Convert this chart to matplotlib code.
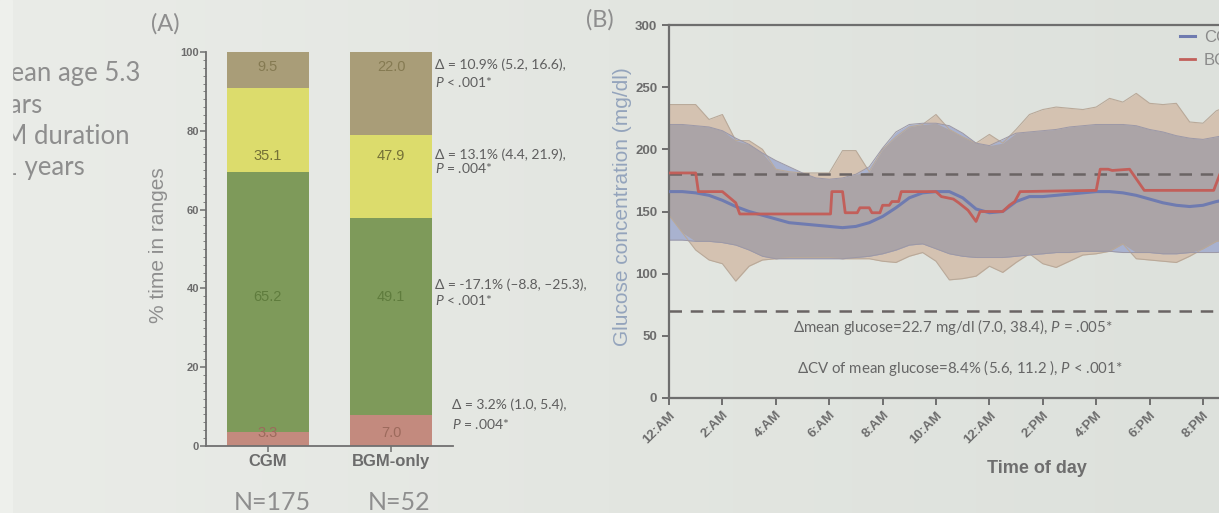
import matplotlib
matplotlib.use("Agg")
import matplotlib.pyplot as plt
import numpy as np

plt.rcParams['font.family'] = ['Liberation Sans', 'DejaVu Sans']
plt.rcParams['mathtext.fontset'] = 'custom'
plt.rcParams['mathtext.it'] = 'Lato:italic'
plt.rcParams['mathtext.rm'] = 'Lato'

# ---- panel A data: % time in ranges ----
groups = ['CGM', 'BGM-only']
group_n = ['N=175', 'N=52']
cgm_pct = [3.5, 66.0, 21.4, 9.1]      # segment heights, bottom to top
bgm_pct = [7.9, 50.0, 21.0, 21.1]
cgm_labels = ['3.3', '65.2', '35.1', '9.5']
bgm_labels = ['7.0', '49.1', '47.9', '22.0']
delta_lines = [
    ('\u0394 = 3.2% (1.0, 5.4),', r'$\it{P}$ = .004*'),
    ('\u0394 = -17.1% (\u20138.8, \u201325.3),', r'$\it{P}$ < .001*'),
    ('\u0394 = 13.1% (4.4, 21.9),', r'$\it{P}$ = .004*'),
    ('\u0394 = 10.9% (5.2, 16.6),', r'$\it{P}$ < .001*'),
]

# ---- panel B data: glucose over the day (hours after midnight) ----
hours = np.arange(0, 24.5, 0.5)
cgm_mean = [166, 166, 165, 163, 159, 154, 150, 147, 144, 141, 140, 139, 138,
            137, 138, 141, 146, 153, 161, 165, 166, 166, 161, 152, 149, 150,
            158, 162, 162, 163, 164, 165, 166, 166, 165, 163, 160, 157, 155,
            154, 155, 158, 160, 161, 162, 162, 162, 163, 163]
cgm_upper = [220, 220, 219, 218, 215, 209, 204, 197, 191, 186, 181, 177, 176,
             177, 180, 186, 201, 214, 220, 221, 221, 219, 213, 205, 203, 208,
             213, 214, 215, 216, 218, 219, 220, 220, 220, 219, 216, 214, 211,
             209, 208, 210, 212, 214, 215, 216, 217, 217, 218]
cgm_lower = [127, 127, 126, 126, 125, 123, 119, 114, 112, 112, 112, 112, 112,
             112, 113, 114, 116, 119, 123, 124, 120, 116, 114, 113, 113, 113,
             114, 115, 116, 117, 117, 118, 118, 118, 117, 117, 117, 116, 116,
             117, 117, 117, 118, 119, 120, 121, 122, 122, 123]
bgm_upper = [236, 236, 236, 224, 228, 207, 207, 200, 184, 182, 181, 181, 181,
             199, 199, 182, 200, 210, 218, 220, 228, 216, 210, 205, 212, 205,
             216, 228, 232, 234, 233, 232, 234, 241, 238, 245, 237, 236, 237,
             222, 221, 231, 235, 236, 236, 236, 236, 236, 236]
bgm_lower = [147, 133, 119, 111, 108, 94, 106, 111, 112, 113, 113, 113, 113,
             112, 112, 112, 110, 109, 114, 117, 110, 95, 96, 98, 106, 101,
             109, 116, 108, 105, 110, 115, 116, 118, 124, 112, 111, 110, 109,
             114, 120, 126, 128, 128, 128, 128, 128, 128, 128]
bgm_t = [0, 1.0, 1.1, 2.0, 2.5, 2.65, 6.05, 6.1, 6.5, 6.6, 7.05, 7.15, 7.5,
         7.6, 7.9, 8.0, 8.25, 8.35, 8.6, 8.7, 10.0, 10.2, 10.65, 10.85, 11.2,
         11.3, 11.5, 11.65, 12.5, 12.75, 12.95, 13.15, 16.0, 16.15, 16.45,
         16.6, 17.25, 17.8, 20.4, 20.65, 24]
bgm_mean = [181, 181, 166, 166, 157, 148, 148, 166, 166, 149, 149, 153, 153,
            149, 149, 155, 155, 158, 158, 166, 166, 162, 160, 157, 151, 148,
            142, 150, 150, 155, 158, 166, 167, 184, 184, 183, 184, 167, 167,
            181, 181]
hypo_line = 70
hyper_line = 180
time_ticks = np.arange(0, 25, 2)
time_labels = ['12:AM', '2:AM', '4:AM', '6:AM', '8:AM', '10:AM', '12:AM',
               '2:PM', '4:PM', '6:PM', '8:PM', '10:PM', '12:AM']

W, H = 1219, 513
fig = plt.figure(figsize=(W / 100, H / 100), dpi=100)
fig.patch.set_facecolor('#e3e6e1')

# photo-like background shading
bg = fig.add_axes([0, 0, 1, 1], zorder=-10)
grad = np.linspace(0, 1, 256)[None, :]
bg.imshow(grad, aspect='auto', extent=[0, 1, 0, 1],
          cmap=matplotlib.colors.LinearSegmentedColormap.from_list(
              'bgc', ['#eaece8', '#e3e6e1', '#dde1dc']))
bg.axis('off')

grey_txt = '#6c6c6c'
slide_txt = '#8e8e8e'

# ================= panel A =================
axA = fig.add_axes([206 / W, 1 - 446 / H, 247 / W, 394 / H])
axA.patch.set_alpha(0)
seg_colors = ['#c38a7e', '#7e9a5a', '#dcdc6c', '#a99d78']
lab_colors = ['#9c6a5c', '#5f7c3d', '#747036', '#857a52']
label_rows = [3.3, 37.8, 73.6, 96.2]

for i, (pcts, labs) in enumerate([(cgm_pct, cgm_labels), (bgm_pct, bgm_labels)]):
    bottom = 0
    for j, p in enumerate(pcts):
        axA.bar(i, p, bottom=bottom, width=0.66, color=seg_colors[j], linewidth=0)
        bottom += p
        axA.text(i, label_rows[j], labs[j], ha='center', va='center',
                 fontsize=10.5, color=lab_colors[j])

axA.set_xlim(-0.5, 1.5)
axA.set_ylim(0, 100)
axA.set_yticks([0, 20, 40, 60, 80, 100])
axA.set_yticks(np.arange(0, 101, 2), minor=True)
axA.set_xticks([0, 1])
axA.set_xticklabels(groups, fontsize=12, fontweight='bold', color=grey_txt)
for s in ['top', 'right']:
    axA.spines[s].set_visible(False)
for s in ['left', 'bottom']:
    axA.spines[s].set_color('#707070')
    axA.spines[s].set_linewidth(1.3)
axA.tick_params(axis='y', which='major', length=4, width=1.1, color='#707070',
                labelsize=8, labelcolor=grey_txt, pad=1)
axA.tick_params(axis='y', which='minor', length=2, width=0.7, color='#808080')
axA.tick_params(axis='x', length=4, width=1.1, color='#707070', pad=2)
for t in axA.get_yticklabels():
    t.set_fontweight('bold')
axA.set_ylabel('% time in ranges', fontsize=15, color='#8e8e8e')
axA.yaxis.set_label_coords(-0.152, 0.51)

ann_pos = [(1.49, 10.4, 5.6), (1.354, 40.9, 37.1), (1.354, 73.9, 70.6),
           (1.354, 96.7, 92.4)]
for (x0, y1, y2), (l1, l2) in zip(ann_pos, delta_lines):
    axA.text(x0, y1, l1, fontsize=10, color='#5e5e5e', va='center',
             family=['Lato', 'DejaVu Sans'], clip_on=False)
    axA.text(x0, y2, l2, fontsize=10, color='#5e5e5e', va='center',
             family=['Lato', 'DejaVu Sans'], clip_on=False)

for i, n in enumerate(group_n):
    fig.text([272, 399][i] / W, 1 - 503 / H, n, ha='center', va='center',
             fontsize=18, color=slide_txt, family=['Lato', 'DejaVu Sans'])

fig.text(165 / W, 1 - 24 / H, '(A)', ha='center', va='center', fontsize=17,
         color=slide_txt, family=['Lato', 'DejaVu Sans'])

# clipped bullet text at the slide's left edge
bullets = [('\u2022 Mean age 5.3', 140, 73), ('years', 43, 105),
           ('\u2022 T1DM duration', 130, 137), ('2.1 years', 85, 168)]
for txt, xr, yc in bullets:
    fig.text(xr / W, 1 - yc / H, txt, ha='right', va='center', fontsize=18.5,
             color=slide_txt, family=['Lato', 'DejaVu Sans'])
# light strip at the photo's left edge
fig.patches.append(plt.Rectangle((0, 0), 12 / W, 1, transform=fig.transFigure,
                                 color='#eef0ec', zorder=5))

# ================= panel B =================
x0B = 669
pxh = 26.7
axB = fig.add_axes([x0B / W, 1 - 398 / H, 24 * pxh / W, 373 / H])
axB.patch.set_alpha(0)

c_tan = '#d4c2b1'
c_blue = '#a9b2cf'
c_over = '#aba4a7'
cu = np.array(cgm_upper)
cl = np.array(cgm_lower)
bu = np.array(bgm_upper)
bl = np.array(bgm_lower)
axB.fill_between(hours, bl, bu, color=c_tan, linewidth=0, zorder=1)
axB.fill_between(hours, cl, cu, color=c_blue, linewidth=0, zorder=1.1)
top = np.minimum(cu, bu)
bot = np.maximum(cl, bl)
axB.fill_between(hours, bot, top, where=top > bot, interpolate=True,
                 color=c_over, linewidth=0, zorder=1.2)
axB.plot(hours, bu, color='#b9a999', lw=0.8, zorder=1.3)
axB.plot(hours, bl, color='#b9a999', lw=0.8, zorder=1.3)
axB.plot(hours, cu, color='#9c98a6', lw=0.7, zorder=1.3)
axB.plot(hours, cl, color='#9c98a6', lw=0.7, zorder=1.3)

for yv in [hypo_line, hyper_line]:
    axB.axhline(yv, color='#6a6464', lw=1.8, dashes=(5, 3.5), zorder=2)

ln_c, = axB.plot(hours, cgm_mean, color='#6f7bb0', lw=2.2, zorder=3, label='CGM')
ln_b, = axB.plot(bgm_t, bgm_mean, color='#c25f5a', lw=2.0, zorder=4, label='BGM-only')

axB.set_xlim(0, 24)
axB.set_ylim(0, 300)
axB.set_yticks([0, 50, 100, 150, 200, 250, 300])
axB.set_xticks(time_ticks)
axB.set_xticklabels(time_labels, rotation=45, ha='right', rotation_mode='anchor',
                    fontsize=9, fontweight='bold', color=grey_txt)
for t in axB.get_yticklabels():
    t.set_fontweight('bold')
axB.tick_params(axis='both', length=5, width=1.4, color='#6e6e6e',
                labelsize=9.5, labelcolor=grey_txt)
axB.tick_params(axis='x', pad=3)
for s in axB.spines.values():
    s.set_color('#6e6e6e')
    s.set_linewidth(1.6)
axB.set_ylabel('Glucose concentration (mg/dl)', fontsize=15, color='#94a4bc')
axB.yaxis.set_label_coords(-0.058, 0.512)
axB.set_xlabel('Time of day', fontsize=13, fontweight='bold', color='#6e6e6e')
axB.xaxis.set_label_coords((1037 - x0B) / (24 * pxh), (398 - 460) / 373)

axB.text(10.64, 57, '\u0394mean glucose=22.7 mg/dl (7.0, 38.4), $\\it{P}$ = .005*',
         ha='center', va='center', fontsize=10.8, color='#666666',
         family=['Lato', 'DejaVu Sans'])
axB.text(10.9, 24, '\u0394CV of mean glucose=8.4% (5.6, 11.2 ), $\\it{P}$ < .001*',
         ha='center', va='center', fontsize=10.8, color='#666666',
         family=['Lato', 'DejaVu Sans'])

axB.legend(handles=[ln_c, ln_b], loc='upper left',
           bbox_to_anchor=(1177 / W, 1 - 27 / H), bbox_transform=fig.transFigure,
           frameon=False, handlelength=0.9, handletextpad=0.5, borderaxespad=0,
           borderpad=0.2, labelspacing=0.45, fontsize=12, labelcolor='#8a8a8a')

fig.text(600 / W, 1 - 20 / H, '(B)', ha='center', va='center', fontsize=17,
         color=slide_txt, family=['Lato', 'DejaVu Sans'])

fig.savefig('out.png', dpi=100, facecolor=fig.get_facecolor())
